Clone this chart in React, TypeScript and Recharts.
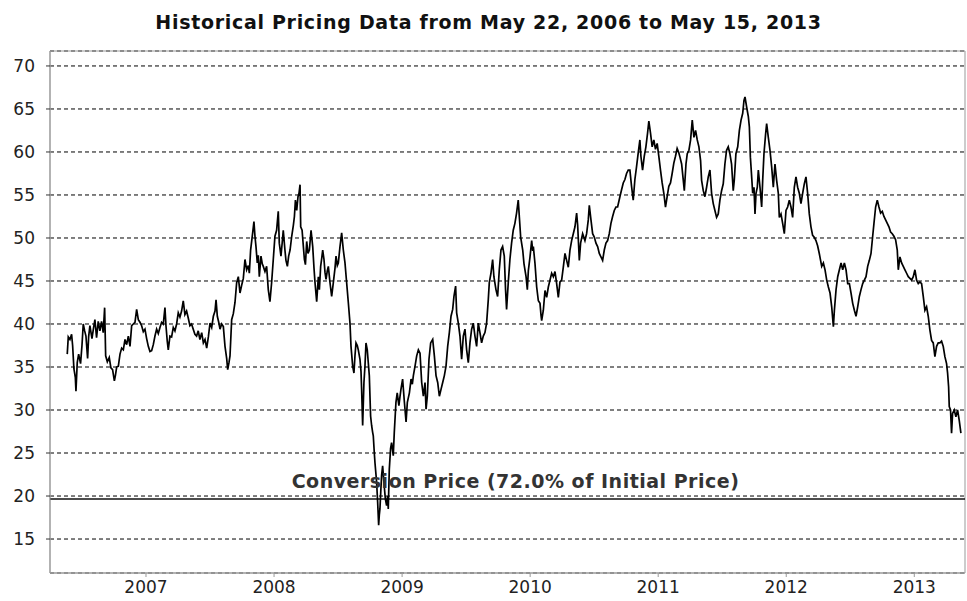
import {
  LineChart, Line, XAxis, YAxis, CartesianGrid,
  ReferenceLine, ReferenceArea
} from 'recharts'

// [decimal year, closing price]
const prices2006 = [
  [2006.385, 36.5], [2006.393, 38.5], [2006.406, 38.2], [2006.419, 38.8], [2006.427, 37.5],
  [2006.437, 34.8], [2006.448, 33.8], [2006.453, 32.2], [2006.463, 35.5], [2006.474, 36.5],
  [2006.489, 35.4], [2006.5, 37.5], [2006.51, 40.0], [2006.521, 39.2], [2006.531, 38.6],
  [2006.544, 36.0], [2006.552, 38.5], [2006.562, 39.8], [2006.578, 38.3], [2006.591, 39.6],
  [2006.601, 40.5], [2006.614, 38.4], [2006.627, 40.3], [2006.64, 39.2], [2006.653, 40.3],
  [2006.666, 39.0], [2006.677, 41.9], [2006.685, 36.3], [2006.698, 35.6], [2006.713, 36.1],
  [2006.726, 34.9], [2006.739, 34.7], [2006.753, 33.4], [2006.761, 34.0], [2006.771, 35.0],
  [2006.784, 35.1], [2006.797, 36.5], [2006.81, 37.2], [2006.823, 37.0], [2006.836, 38.2],
  [2006.849, 37.6], [2006.862, 38.6], [2006.875, 37.4], [2006.888, 39.8], [2006.901, 40.0],
  [2006.914, 40.2], [2006.927, 41.7], [2006.94, 40.5], [2006.953, 40.2], [2006.966, 39.8],
  [2006.979, 39.1], [2006.992, 39.4], [2007.005, 38.3], [2007.018, 37.4], [2007.031, 36.8],
  [2007.044, 36.9], [2007.057, 37.6], [2007.07, 38.6], [2007.083, 39.4], [2007.096, 38.9],
  [2007.109, 39.6], [2007.122, 40.2], [2007.135, 40.0], [2007.148, 41.9], [2007.156, 39.8],
  [2007.166, 38.0], [2007.174, 37.0], [2007.187, 38.6], [2007.2, 38.5], [2007.213, 39.6],
  [2007.226, 39.2], [2007.239, 40.0], [2007.252, 41.3], [2007.265, 40.8], [2007.278, 41.5],
  [2007.291, 42.7], [2007.304, 41.1], [2007.317, 41.5], [2007.33, 40.7], [2007.343, 39.8],
  [2007.356, 40.0], [2007.369, 39.4], [2007.382, 38.8], [2007.395, 38.6], [2007.408, 39.2],
  [2007.421, 38.2],
]

const prices2007 = [
  [2007.435, 39.0], [2007.448, 37.8], [2007.461, 38.2], [2007.474, 37.2], [2007.487, 38.5],
  [2007.5, 40.1], [2007.513, 39.6], [2007.526, 40.9], [2007.539, 41.5], [2007.547, 42.8],
  [2007.557, 40.9], [2007.568, 40.2], [2007.578, 39.4], [2007.591, 40.0], [2007.604, 39.7],
  [2007.617, 37.4], [2007.63, 36.0], [2007.638, 34.7], [2007.648, 35.5], [2007.656, 36.3],
  [2007.669, 40.5], [2007.682, 41.2], [2007.695, 42.5], [2007.708, 44.8], [2007.721, 45.5],
  [2007.734, 43.6], [2007.747, 44.5], [2007.76, 45.3], [2007.773, 47.5], [2007.786, 46.3],
  [2007.799, 46.8], [2007.807, 45.9], [2007.817, 48.6], [2007.833, 50.6], [2007.843, 51.9],
  [2007.851, 50.2], [2007.859, 49.0], [2007.869, 47.1], [2007.877, 48.0], [2007.885, 45.5],
  [2007.898, 47.9], [2007.908, 47.0], [2007.916, 46.7], [2007.929, 46.1], [2007.942, 46.7],
  [2007.955, 44.0], [2007.968, 42.6], [2007.981, 44.8], [2007.994, 47.5], [2008.007, 50.2],
  [2008.02, 50.9], [2008.033, 53.1], [2008.041, 49.4], [2008.054, 47.9], [2008.064, 49.5],
  [2008.072, 50.9], [2008.085, 48.6], [2008.093, 47.4], [2008.104, 46.7], [2008.114, 47.9],
  [2008.125, 48.6], [2008.138, 50.2], [2008.151, 51.5], [2008.159, 52.5], [2008.167, 54.4],
  [2008.177, 53.2], [2008.187, 54.8], [2008.195, 55.2], [2008.203, 56.2], [2008.208, 51.3],
  [2008.219, 50.9], [2008.229, 49.0], [2008.237, 47.5], [2008.245, 46.9], [2008.255, 49.6],
  [2008.265, 48.2], [2008.276, 48.6], [2008.289, 50.9], [2008.302, 49.0], [2008.312, 46.5],
  [2008.32, 44.8], [2008.333, 42.6], [2008.346, 45.5], [2008.354, 44.0], [2008.364, 46.7],
  [2008.372, 47.6], [2008.38, 48.6], [2008.39, 47.5], [2008.398, 46.0], [2008.406, 45.2],
  [2008.416, 46.2], [2008.424, 46.7], [2008.437, 44.8], [2008.45, 43.2], [2008.463, 44.8],
  [2008.476, 46.5], [2008.484, 47.9], [2008.494, 46.8], [2008.502, 47.1], [2008.515, 49.0],
  [2008.528, 50.6], [2008.541, 48.6], [2008.554, 47.1], [2008.567, 44.8], [2008.58, 42.5],
  [2008.593, 40.1],
]

const prices2008 = [
  [2008.601, 37.4], [2008.614, 35.1], [2008.624, 34.3], [2008.632, 36.3], [2008.64, 37.8],
  [2008.65, 37.5], [2008.658, 37.0], [2008.671, 35.9], [2008.679, 34.5], [2008.684, 32.4],
  [2008.692, 28.2], [2008.702, 33.2], [2008.71, 35.1], [2008.718, 37.8], [2008.728, 37.0],
  [2008.736, 35.5], [2008.744, 34.0], [2008.754, 29.3], [2008.762, 28.2], [2008.77, 27.4],
  [2008.775, 27.0], [2008.783, 25.0], [2008.788, 23.9], [2008.796, 22.5], [2008.801, 21.6],
  [2008.809, 19.3], [2008.817, 16.6], [2008.822, 17.8], [2008.827, 18.5], [2008.835, 21.0],
  [2008.84, 22.4], [2008.848, 23.5], [2008.858, 21.6], [2008.869, 19.7], [2008.879, 18.9],
  [2008.887, 20.0], [2008.892, 18.5], [2008.9, 23.1], [2008.91, 25.5], [2008.918, 26.2],
  [2008.931, 24.7], [2008.939, 27.4], [2008.952, 30.9], [2008.962, 32.0], [2008.975, 30.5],
  [2008.983, 31.5], [2008.991, 32.4], [2009.004, 33.6], [2009.018, 30.9], [2009.031, 28.6],
  [2009.041, 30.9], [2009.057, 32.0], [2009.07, 33.6], [2009.08, 33.0], [2009.088, 34.0],
  [2009.101, 35.1], [2009.114, 36.3], [2009.127, 37.0], [2009.14, 36.6], [2009.153, 33.2],
  [2009.166, 31.6], [2009.179, 33.2], [2009.187, 30.1], [2009.197, 31.6], [2009.21, 35.9],
  [2009.223, 37.8], [2009.239, 38.2], [2009.252, 36.3], [2009.265, 34.0], [2009.278, 33.2],
  [2009.291, 31.6], [2009.304, 32.4], [2009.317, 33.2], [2009.33, 34.0], [2009.343, 35.1],
  [2009.356, 37.4], [2009.369, 39.0], [2009.382, 40.9], [2009.395, 41.7], [2009.405, 43.2],
  [2009.418, 44.4], [2009.426, 41.3], [2009.439, 40.1], [2009.452, 38.6], [2009.465, 35.9],
  [2009.478, 38.6], [2009.491, 39.4], [2009.504, 37.0], [2009.517, 35.5], [2009.53, 37.8],
  [2009.543, 39.4], [2009.556, 40.1], [2009.569, 38.6], [2009.582, 37.4], [2009.595, 40.1],
  [2009.608, 39.0], [2009.621, 37.8], [2009.634, 38.6], [2009.647, 39.0], [2009.66, 40.1],
  [2009.673, 42.8], [2009.681, 44.8], [2009.694, 45.9], [2009.707, 47.5], [2009.717, 45.5],
  [2009.733, 44.0], [2009.746, 43.2], [2009.759, 46.3], [2009.772, 48.6], [2009.785, 49.0],
  [2009.798, 47.9], [2009.808, 44.0], [2009.816, 41.7], [2009.829, 44.8], [2009.842, 47.5],
  [2009.855, 49.4], [2009.868, 50.9], [2009.881, 51.7], [2009.894, 52.9], [2009.907, 54.4],
]

const prices2010 = [
  [2009.926, 50.1], [2009.942, 48.6], [2009.952, 47.0], [2009.968, 45.5], [2009.978, 44.0],
  [2009.986, 46.2], [2009.999, 47.8], [2010.012, 49.7], [2010.02, 48.5], [2010.025, 49.0],
  [2010.038, 47.0], [2010.051, 44.3], [2010.064, 42.7], [2010.077, 42.4], [2010.085, 41.0],
  [2010.09, 40.4], [2010.103, 41.6], [2010.116, 43.9], [2010.129, 43.1], [2010.142, 44.3],
  [2010.155, 45.1], [2010.168, 45.9], [2010.181, 45.5], [2010.194, 46.1], [2010.207, 44.7],
  [2010.22, 43.1], [2010.233, 44.9], [2010.246, 45.1], [2010.259, 46.6], [2010.272, 48.2],
  [2010.285, 47.4], [2010.298, 46.6], [2010.311, 48.6], [2010.324, 49.7], [2010.337, 50.5],
  [2010.35, 51.3], [2010.363, 52.9], [2010.371, 51.5], [2010.384, 47.4], [2010.394, 49.4],
  [2010.41, 50.5], [2010.428, 49.7], [2010.441, 50.5], [2010.454, 52.1], [2010.462, 53.8],
  [2010.475, 52.1], [2010.488, 50.5], [2010.501, 50.1], [2010.514, 49.4], [2010.527, 49.0],
  [2010.54, 48.2], [2010.553, 47.8], [2010.566, 47.4], [2010.579, 48.6], [2010.592, 49.4],
  [2010.605, 49.7], [2010.618, 50.5], [2010.631, 51.7], [2010.644, 52.5], [2010.657, 53.2],
  [2010.67, 53.6], [2010.683, 53.6], [2010.701, 54.8], [2010.714, 55.6], [2010.727, 56.4],
  [2010.74, 56.8], [2010.753, 57.5], [2010.766, 57.9], [2010.779, 57.9], [2010.792, 56.0],
  [2010.805, 54.4], [2010.818, 56.8], [2010.831, 58.3], [2010.844, 59.9], [2010.857, 61.4],
  [2010.865, 59.5], [2010.878, 57.9], [2010.891, 59.5], [2010.904, 60.6], [2010.917, 62.2],
  [2010.927, 63.6], [2010.94, 62.2], [2010.953, 60.6], [2010.966, 61.4], [2010.979, 60.3],
  [2010.992, 61.0], [2011.005, 59.5], [2011.018, 57.9], [2011.031, 56.4], [2011.044, 55.2],
  [2011.057, 53.6], [2011.07, 54.8], [2011.083, 56.0], [2011.096, 56.4], [2011.109, 57.5],
  [2011.122, 58.7], [2011.135, 59.5], [2011.148, 60.4], [2011.161, 59.9],
]

const prices2011 = [
  [2011.17, 59.4], [2011.183, 58.6], [2011.196, 56.7], [2011.204, 55.5], [2011.217, 58.6],
  [2011.227, 59.8], [2011.24, 60.2], [2011.253, 61.4], [2011.266, 63.7], [2011.279, 61.7],
  [2011.292, 62.5], [2011.305, 61.4], [2011.318, 60.6], [2011.331, 59.0], [2011.339, 56.7],
  [2011.352, 55.5], [2011.365, 54.8], [2011.378, 55.9], [2011.391, 57.1], [2011.404, 57.9],
  [2011.417, 55.2], [2011.43, 54.0], [2011.443, 53.2], [2011.456, 52.4], [2011.469, 52.8],
  [2011.482, 54.4], [2011.495, 55.5], [2011.508, 56.3], [2011.521, 58.6], [2011.534, 60.2],
  [2011.547, 60.6], [2011.56, 59.8], [2011.573, 58.6], [2011.586, 55.5], [2011.594, 56.7],
  [2011.607, 59.8], [2011.621, 60.6], [2011.634, 62.5], [2011.647, 63.7], [2011.66, 64.5],
  [2011.67, 66.0], [2011.678, 66.4], [2011.691, 65.2], [2011.704, 64.1], [2011.712, 62.9],
  [2011.72, 59.4], [2011.73, 57.1], [2011.738, 55.2], [2011.748, 55.9], [2011.756, 52.8],
  [2011.764, 55.2], [2011.774, 55.9], [2011.782, 57.9], [2011.795, 55.9], [2011.808, 53.6],
  [2011.816, 56.7], [2011.826, 59.8], [2011.839, 62.1], [2011.847, 63.3], [2011.86, 61.7],
  [2011.873, 60.2], [2011.886, 58.3], [2011.899, 55.9], [2011.912, 58.6], [2011.925, 56.7],
  [2011.938, 55.2], [2011.946, 52.4], [2011.959, 52.8], [2011.972, 51.7], [2011.985, 50.5],
  [2011.998, 53.2], [2012.011, 53.6], [2012.024, 54.4], [2012.037, 53.6], [2012.05, 52.4],
  [2012.063, 55.9], [2012.076, 57.1], [2012.089, 55.9], [2012.102, 55.2], [2012.115, 54.0],
  [2012.128, 55.2], [2012.141, 56.3], [2012.154, 57.1], [2012.167, 55.2], [2012.18, 52.8],
  [2012.193, 51.3], [2012.206, 50.3], [2012.219, 50.1], [2012.232, 49.7], [2012.245, 49.1],
  [2012.258, 48.2],
]

const prices2012 = [
  [2012.277, 46.7], [2012.29, 47.1], [2012.303, 46.3], [2012.316, 45.1], [2012.329, 44.3],
  [2012.342, 43.6], [2012.355, 42.0], [2012.368, 39.7], [2012.376, 41.6], [2012.389, 44.0],
  [2012.402, 45.5], [2012.415, 46.3], [2012.428, 47.1], [2012.441, 46.3], [2012.454, 47.1],
  [2012.467, 46.3], [2012.48, 44.7], [2012.493, 44.7], [2012.506, 43.6], [2012.519, 42.4],
  [2012.532, 41.6], [2012.545, 40.9], [2012.558, 42.0], [2012.571, 43.2], [2012.584, 44.0],
  [2012.597, 44.7], [2012.61, 45.1], [2012.623, 45.5], [2012.636, 46.7], [2012.649, 47.4],
  [2012.662, 48.2], [2012.675, 50.2], [2012.685, 51.7], [2012.698, 53.6], [2012.711, 54.4],
  [2012.724, 53.6], [2012.737, 52.9], [2012.75, 53.1], [2012.763, 52.5], [2012.776, 52.1],
  [2012.789, 51.7], [2012.802, 51.3], [2012.815, 50.7], [2012.828, 50.5], [2012.841, 50.2],
  [2012.854, 49.8], [2012.867, 48.6], [2012.875, 46.3], [2012.888, 47.8], [2012.901, 47.1],
  [2012.914, 46.7], [2012.927, 46.3], [2012.94, 45.9], [2012.953, 45.5], [2012.966, 45.3],
  [2012.979, 45.1], [2012.992, 45.5], [2013.005, 46.3], [2013.018, 45.1], [2013.031, 44.7],
  [2013.044, 44.9], [2013.057, 44.7], [2013.07, 43.2], [2013.083, 41.6], [2013.096, 42.0],
  [2013.109, 40.9], [2013.122, 39.3], [2013.135, 38.1], [2013.148, 37.8], [2013.161, 36.2],
  [2013.174, 37.4], [2013.187, 37.8], [2013.2, 37.8], [2013.213, 38.0], [2013.226, 37.4],
  [2013.239, 36.2], [2013.252, 35.4], [2013.26, 34.3], [2013.268, 32.7], [2013.273, 30.4],
  [2013.283, 30.0], [2013.291, 27.3], [2013.299, 29.6], [2013.312, 30.0], [2013.325, 29.2],
  [2013.338, 30.0], [2013.351, 28.8], [2013.364, 27.3],
]

const yearTicks = [2007, 2008, 2009, 2010, 2011, 2012, 2013]
const priceTicks = [15, 20, 25, 30, 35, 40, 45, 50, 55, 60, 65, 70]
const conversionPrice = 19.65
const xDomain: [number, number] = [2006.2503, 2013.396]
const yDomain: [number, number] = [11.05, 71.74]

const data = [...prices2006, ...prices2007, ...prices2008, ...prices2010, ...prices2011, ...prices2012]
  .map(([t, price]) => ({ t, price }))

const font = '"DejaVu Sans", sans-serif'
const tickStyle = { fill: '#222', fontSize: 17, fontFamily: font }

export default function App() {
  return (
    <div style={{ position: 'absolute', left: 0, top: 0, width: 967, height: 601, background: '#fff' }}>
      <div
        style={{
          position: 'absolute', top: 10, left: 0, width: 967, textAlign: 'center',
          fontFamily: font, fontWeight: 'bold', fontSize: 19, letterSpacing: 0.7, color: '#111',
          lineHeight: '24px', paddingLeft: 10, boxSizing: 'border-box',
        }}
      >
        Historical Pricing Data from May 22, 2006 to May 15, 2013
      </div>
      <LineChart width={967} height={601} data={data} margin={{ top: 51, right: 2, bottom: 0, left: 0 }}>
        <CartesianGrid vertical={false} stroke="#000" strokeDasharray="4 3" />
        <XAxis
          dataKey="t"
          type="number"
          domain={xDomain}
          allowDataOverflow
          ticks={yearTicks}
          tickFormatter={(v) => String(v)}
          height={28}
          tickSize={4}
          tickMargin={4}
          tick={tickStyle}
          axisLine={{ stroke: '#999' }}
          tickLine={{ stroke: '#999' }}
        />
        <YAxis
          type="number"
          domain={yDomain}
          allowDataOverflow
          ticks={priceTicks}
          width={50}
          tickSize={4}
          tickMargin={11}
          tick={tickStyle}
          axisLine={{ stroke: '#999' }}
          tickLine={{ stroke: '#333' }}
        />
        <ReferenceArea
          x1={xDomain[0]} x2={xDomain[1]} y1={yDomain[0]} y2={yDomain[1]}
          fill="none" stroke="#999" strokeWidth={1} ifOverflow="visible"
        />
        <ReferenceLine
          y={conversionPrice}
          stroke="#111"
          strokeWidth={1.5}
          label={{
            value: 'Conversion Price (72.0% of Initial Price)',
            position: 'top',
            offset: 11,
            dx: 8,
            fill: '#333',
            fontSize: 19,
            fontWeight: 'bold',
            fontFamily: font,
            letterSpacing: 0.5,
          }}
        />
        <Line
          type="linear"
          dataKey="price"
          stroke="#000"
          strokeWidth={1.7}
          dot={false}
          isAnimationActive={false}
        />
      </LineChart>
    </div>
  )
}
